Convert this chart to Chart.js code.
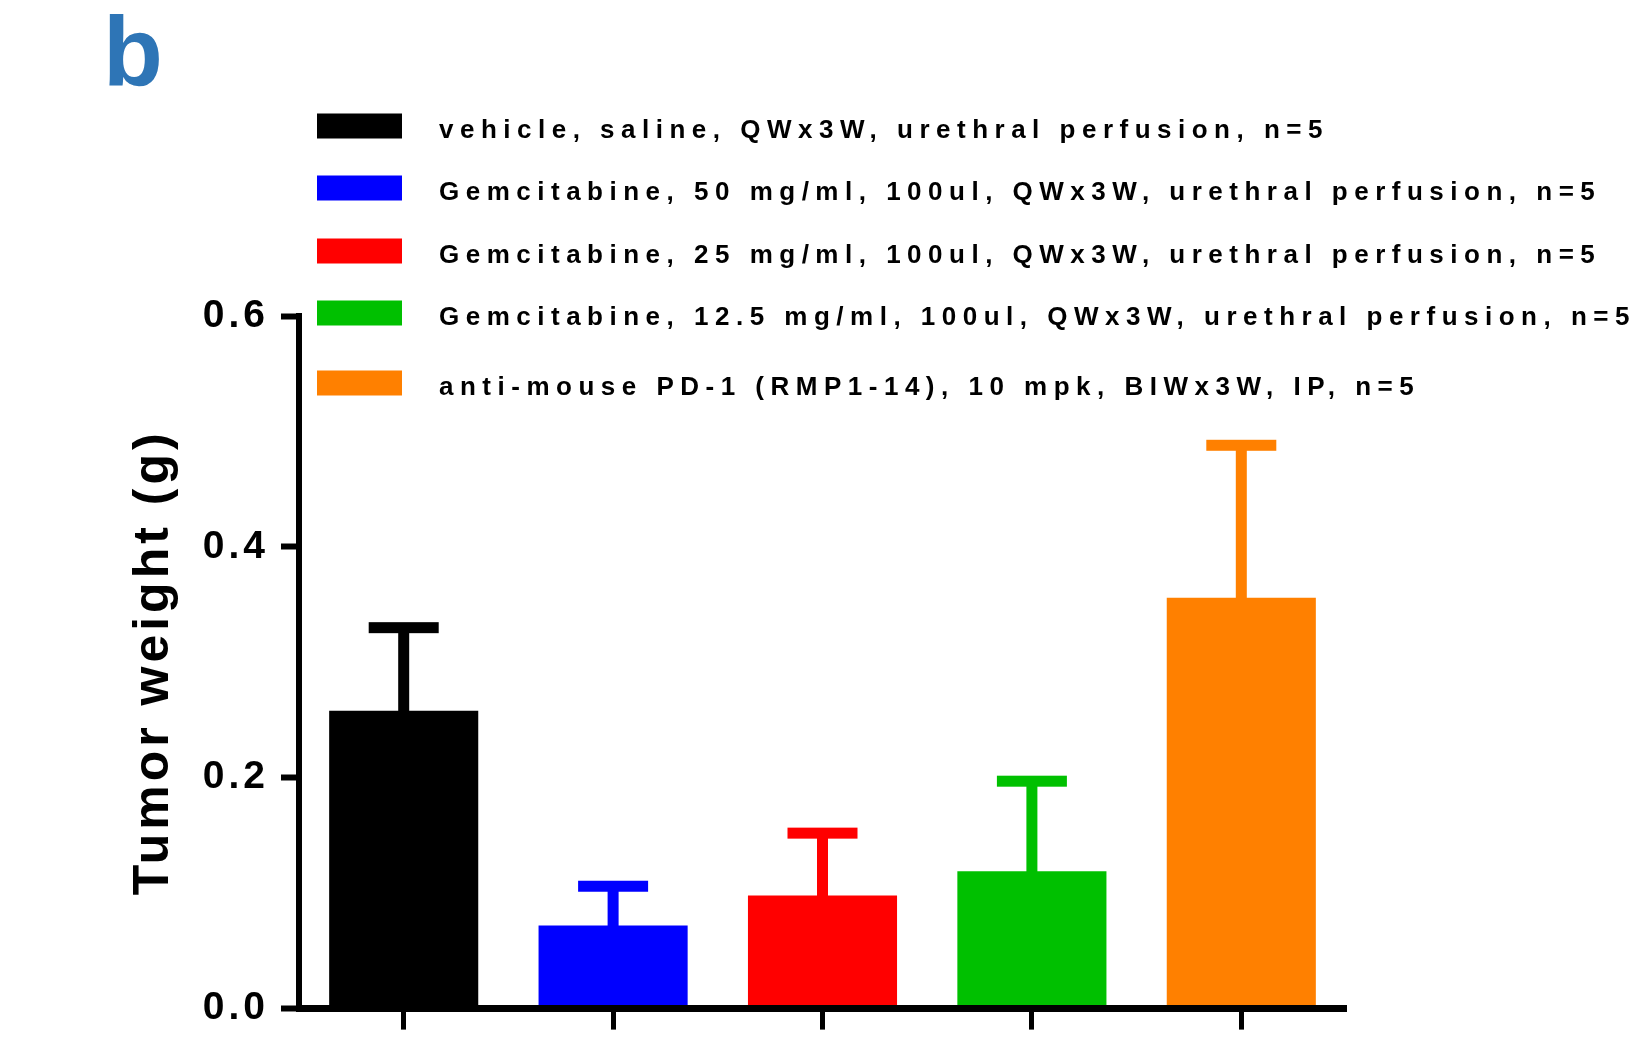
<!DOCTYPE html>
<html>
<head>
<meta charset="utf-8">
<script src="https://cdn.jsdelivr.net/npm/chart.js@4.4.1/dist/chart.umd.min.js"></script>
<style>
  html, body { margin: 0; padding: 0; background: #fff; }
  #wrap { width: 1633px; height: 1044px; }
</style>
</head>
<body>
<div id="wrap"><canvas id="tumorChart" width="1633" height="1044"></canvas></div>
<script>
  // treatment groups (legend text)
  const groups = [
      'vehicle, saline, QWx3W, urethral perfusion, n=5',
      'Gemcitabine, 50 mg/ml, 100ul, QWx3W, urethral perfusion, n=5',
      'Gemcitabine, 25 mg/ml, 100ul, QWx3W, urethral perfusion, n=5',
      'Gemcitabine, 12.5 mg/ml, 100ul, QWx3W, urethral perfusion, n=5',
      'anti-mouse PD-1 (RMP1-14), 10 mpk, BIWx3W, IP, n=5'
  ];
  const meanWeight = [0.258, 0.072, 0.098, 0.119, 0.356];
  const semWeight = [0.072, 0.034, 0.054, 0.078, 0.132];
  const barColors = ['#000000', '#0000ff', '#ff0000', '#00c000', '#ff8000'];
  const yTicks = [0, 0.2, 0.4, 0.6];

  const FONT = '"Liberation Sans", Arial, sans-serif';

  // wide letter spacing like the original figure
  const spacing = {
      id: 'spacing',
      beforeLayout(chart) { chart.ctx.letterSpacing = '4px'; },
      beforeDraw(chart) { chart.ctx.letterSpacing = '4px'; }
  };

  // mean + SEM, upper whisker only
  const errorBars = {
      id: 'errorBars',
      afterDatasetsDraw(chart) {
          const ctx = chart.ctx;
          const y = chart.scales.y;
          chart.getDatasetMeta(0).data.forEach((bar, i) => {
              const top = y.getPixelForValue(meanWeight[i] + semWeight[i]);
              ctx.save();
              ctx.fillStyle = barColors[i];
              ctx.fillRect(bar.x - 5.5, top, 11, bar.y - top + 1);
              ctx.fillRect(bar.x - 35, top - 5.5, 70, 11);
              ctx.restore();
          });
      }
  };

  // legend stacked over the plot + panel letter
  const sideLegend = {
      id: 'sideLegend',
      afterDraw(chart) {
          const ctx = chart.ctx;
          const rowY = [126, 188, 251, 313, 383];
          ctx.save();
          ctx.letterSpacing = '0px';
          ctx.fillStyle = '#2e75b6';
          ctx.font = 'bold 98px ' + FONT;
          ctx.textBaseline = 'alphabetic';
          ctx.fillText('b', 103, 85);

          ctx.font = 'bold 26px ' + FONT;
          ctx.letterSpacing = '6.5px';
          groups.forEach((g, i) => {
              ctx.fillStyle = barColors[i];
              ctx.fillRect(317, rowY[i] - 12.5, 85, 25);
              ctx.fillStyle = '#000';
              ctx.fillText(g, 439, rowY[i] + 12);
          });
          ctx.restore();
      }
  };

  const ctx = document.getElementById('tumorChart').getContext('2d');
  const tumorChart = new Chart(ctx, {
      type: 'bar',
      data: {
          labels: groups,
          datasets: [{
              data: meanWeight,
              backgroundColor: barColors,
              barPercentage: 0.712,
              categoryPercentage: 1
          }]
      },
      options: {
          responsive: false,
          animation: false,
          layout: { padding: { top: 316, right: 287, left: 0, bottom: 0 } },
          plugins: {
              legend: { display: false },
              tooltip: { enabled: false }
          },
          scales: {
              x: {
                  grid: { drawOnChartArea: false, offset: false, tickLength: 21, tickWidth: 5, tickColor: '#000' },
                  border: { color: '#000', width: 7, z: 1 },
                  ticks: { display: false },
                  afterFit(s) { s.height = 33; }
              },
              y: {
                  min: 0,
                  max: 0.6,
                  afterBuildTicks(s) { s.ticks = yTicks.map(v => ({ value: v })); },
                  grid: { drawOnChartArea: false, tickLength: 18, tickWidth: 6, tickColor: '#000' },
                  border: { color: '#000', width: 6 },
                  ticks: {
                      color: '#000',
                      padding: 12,
                      font: { family: FONT, size: 39, weight: 'bold' },
                      callback: v => v.toFixed(1)
                  },
                  title: {
                      display: true,
                      text: 'Tumor weight (g)',
                      color: '#000',
                      font: { family: FONT, size: 50, weight: 'bold' },
                      padding: { top: 124, bottom: 0 }
                  },
                  afterFit(s) { s.width = 299; }
              }
          }
      },
      plugins: [spacing, errorBars, sideLegend]
  });
</script>
</body>
</html>
